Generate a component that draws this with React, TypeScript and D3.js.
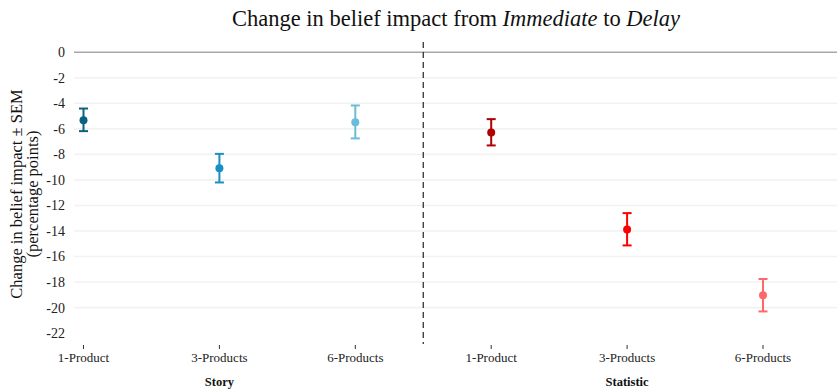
import React from "react";
import * as d3 from "d3";

// Conditions along the x axis (two message formats × three product counts)
const formats = ["Story", "Statistic"];
const products = ["1-Product", "3-Products", "6-Products"];
// Mean change in belief impact (percentage points) and the SEM band ends
const means = [-5.32, -9.08, -5.48, -6.29, -13.88, -19.04];
const upper = [-4.41, -7.96, -4.17, -5.24, -12.6, -17.76];
const lower = [-6.18, -10.2, -6.75, -7.3, -15.13, -20.3];
const pointColors = ["#0b6183", "#1a8fc4", "#6bbcd9", "#b00000", "#ff0000", "#ff6868"];
const yTicks = [0, -2, -4, -6, -8, -10, -12, -14, -16, -18, -20, -22];

const W = 837;
const H = 390;
const FONT = "'Liberation Serif', 'DejaVu Serif', serif";

export default function App() {
  const keys = formats.flatMap((f) => products.map((p) => `${f}|${p}`));
  const x = d3.scalePoint<string>().domain(keys).range([83.5, 763]);
  const y = d3.scaleLinear().domain([-22.85, 0.8]).range([344, 42]);
  const gridLeft = 74;
  const gridRight = W;
  const dividerX = (x(keys[2])! + x(keys[3])!) / 2;

  return (
    <svg
      width={W}
      height={H}
      style={{ position: "absolute", left: 0, top: 0, background: "#fff" }}
      fontFamily={FONT}
    >
      {/* title */}
      <text x={456} y={26} fontSize={22.5} textAnchor="middle" fill="#111">
        Change in belief impact from <tspan fontStyle="italic">Immediate</tspan> to{" "}
        <tspan fontStyle="italic">Delay</tspan>
      </text>

      {/* horizontal grid */}
      {yTicks.map((t) =>
        t === -22 ? null : (
          <line
            key={t}
            x1={gridLeft}
            x2={gridRight}
            y1={y(t)}
            y2={y(t)}
            stroke={t === 0 ? "#a8a8a8" : "#f2f2f2"}
            strokeWidth={t === 0 ? 1.4 : 1.6}
          />
        )
      )}

      {/* y tick labels */}
      {yTicks.map((t) => (
        <text
          key={t}
          x={65}
          y={y(t)}
          dy="0.35em"
          fontSize={14}
          textAnchor="end"
          fill="#222"
        >
          {t}
        </text>
      ))}

      {/* y axis title */}
      <g transform={`translate(16,194) rotate(-90)`}>
        <text x={0} y={0} dy="0.35em" fontSize={16.5} textAnchor="middle" fill="#111">
          Change in belief impact ± SEM
        </text>
        <text x={0} y={16} dy="0.35em" fontSize={16.5} textAnchor="middle" fill="#111">
          (percentage points)
        </text>
      </g>

      {/* divider between formats */}
      <line
        x1={dividerX}
        x2={dividerX}
        y1={42}
        y2={344}
        stroke="#222"
        strokeWidth={1.2}
        strokeDasharray="6,4"
      />

      {/* x ticks and labels */}
      {keys.map((k, i) => (
        <g key={k} transform={`translate(${x(k)},0)`}>
          <line y1={345} y2={349} stroke="#333" strokeWidth={1} />
          <text y={362} fontSize={13} textAnchor="middle" fill="#222">
            {products[i % 3]}
          </text>
        </g>
      ))}

      {/* format group labels */}
      {formats.map((f, gi) => (
        <text
          key={f}
          x={x(keys[gi * 3 + 1])}
          y={386}
          fontSize={12.5}
          fontWeight="bold"
          textAnchor="middle"
          fill="#111"
        >
          {f}
        </text>
      ))}

      {/* error bars and means */}
      {keys.map((k, i) => {
        const cx = x(k)!;
        const c = pointColors[i];
        const cap = 4.5;
        return (
          <g key={k} stroke={c} strokeWidth={2}>
            <line x1={cx} x2={cx} y1={y(upper[i])} y2={y(lower[i])} />
            <line x1={cx - cap} x2={cx + cap} y1={y(upper[i])} y2={y(upper[i])} />
            <line x1={cx - cap} x2={cx + cap} y1={y(lower[i])} y2={y(lower[i])} />
            <circle cx={cx} cy={y(means[i])} r={4} fill={c} stroke="none" />
          </g>
        );
      })}
    </svg>
  );
}
